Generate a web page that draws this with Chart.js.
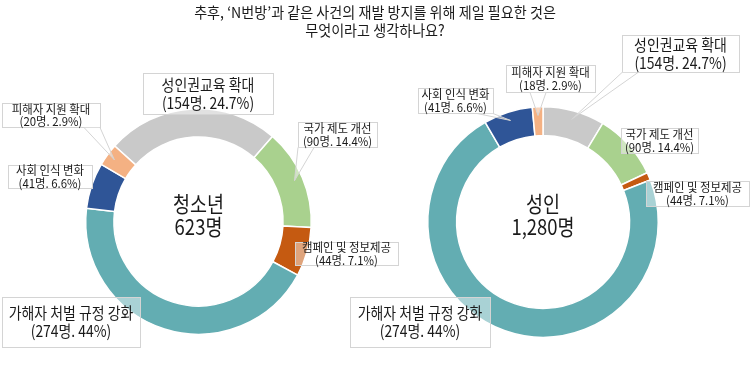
<!DOCTYPE html>
<html>
<head>
<meta charset="utf-8">
<script src="https://cdn.jsdelivr.net/npm/chart.js@4.4.0/dist/chart.umd.min.js"></script>
<style>
  body { margin: 0; background: #fff; }
  #wrap { position: relative; width: 750px; height: 384px; overflow: hidden; }
  #wrap canvas { position: absolute; left: 0; top: 0; }
  #title {
    position: absolute; left: 0; top: 3px; width: 750px;
    text-align: center; font: 15px "Noto Sans CJK KR"; line-height: 18px;
    color: #1a1a1a; transform: scaleX(0.94);
  }
</style>
</head>
<body>
<div id="wrap">
  <canvas id="youth" width="750" height="384"></canvas>
  <canvas id="adult" width="750" height="384"></canvas>
  <div id="title">추후, ‘N번방’과 같은 사건의 재발 방지를 위해 제일 필요한 것은<br>무엇이라고 생각하나요?</div>
</div>
<script>
// data
const categories = ['성인권교육 확대', '국가 제도 개선', '캠페인 및 정보제공', '가해자 처벌 규정 강화', '사회 인식 변화', '피해자 지원 확대'];
const colors = ['#c9c9c9', '#a9d18e', '#c55a11', '#63adb2', '#2f5597', '#f4b183'];

const youthCounts = [154, 90, 44, 274, 41, 20];
const adultCounts = [111, 119, 14, 929, 88, 19];

const youthLabels = ['(154명. 24.7%)', '(90명. 14.4%)', '(44명. 7.1%)', '(274명. 44%)', '(41명. 6.6%)', '(20명. 2.9%)'];
const adultLabels = ['(154명. 24.7%)', '(90명. 14.4%)', '(44명. 7.1%)', '(274명. 44%)', '(41명. 6.6%)', '(18명. 2.9%)'];

const youthCenter = ['청소년', '623명'];
const adultCenter = ['성인', '1,280명'];

// label box placement (by category index)
const youthBoxes = [
  { x: 143, y: 73, w: 130, h: 41, big: true },
  { x: 298, y: 122, w: 79, h: 25, callout: true },
  { x: 295, y: 242, w: 103, h: 23 },
  { x: 2, y: 297, w: 138, h: 50, big: true },
  { x: 8, y: 165, w: 84, h: 23 },
  { x: 2, y: 103, w: 98, h: 24, callout: true }
];
const adultBoxes = [
  { x: 622, y: 35, w: 117, h: 37, big: true, callout: true },
  { x: 621, y: 128, w: 77, h: 25 },
  { x: 646, y: 181, w: 103, h: 25 },
  { x: 350, y: 297, w: 140, h: 50, big: true },
  { x: 418, y: 88, w: 75, h: 25, callout: true },
  { x: 506, y: 65, w: 89, h: 27, callout: true }
];

const FONT = '"Noto Sans CJK KR", "Noto Sans", sans-serif';

function squeezeText(ctx, text, x, y, size, sx) {
  ctx.save();
  ctx.translate(x, y);
  ctx.scale(sx, 1);
  ctx.font = size + 'px ' + FONT;
  ctx.fillText(text, 0, 0);
  ctx.restore();
}

const calloutPlugin = {
  id: 'callouts',
  afterDraw(chart, args, opts) {
    const ctx = chart.ctx;
    const meta = chart.getDatasetMeta(0);
    const cx = meta.data[0].x, cy = meta.data[0].y;

    ctx.save();
    ctx.fillStyle = '#1a1a1a';
    ctx.textAlign = 'center';
    ctx.textBaseline = 'middle';
    squeezeText(ctx, opts.center[0], cx, cy - 18, 22, 0.84);
    squeezeText(ctx, opts.center[1], cx, cy + 5, 22, 0.84);

    opts.boxes.forEach(function (b, i) {
      const arc = meta.data[i];
      ctx.fillStyle = 'rgba(255,255,255,0.45)';
      ctx.strokeStyle = '#d4d4d4';
      ctx.lineWidth = 1;
      ctx.fillRect(b.x, b.y, b.w, b.h);
      ctx.strokeRect(b.x + 0.5, b.y + 0.5, b.w, b.h);

      if (b.callout) {
        const a = (arc.startAngle + arc.endAngle) / 2;
        const r = arc.outerRadius - (arc.outerRadius - arc.innerRadius) * 0.3;
        const tx = cx + Math.cos(a) * r, ty = cy + Math.sin(a) * r;
        const edgeY = ty > b.y + b.h ? b.y + b.h + 0.5 : b.y + 0.5;
        const bx = Math.min(Math.max(tx, b.x + 8), b.x + b.w - 8);
        ctx.beginPath();
        ctx.moveTo(bx - 8, edgeY);
        ctx.lineTo(tx, ty);
        ctx.lineTo(bx + 8, edgeY);
        ctx.closePath();
        ctx.fill();
        ctx.beginPath();
        ctx.moveTo(bx - 8, edgeY);
        ctx.lineTo(tx, ty);
        ctx.lineTo(bx + 8, edgeY);
        ctx.stroke();
      }

      ctx.fillStyle = '#1a1a1a';
      const mx = b.x + b.w / 2, my = b.y + b.h / 2;
      if (b.big) {
        squeezeText(ctx, categories[i], mx, my - 9, 16, 0.87);
        squeezeText(ctx, opts.labels[i], mx, my + 9, 16, 0.87);
      } else {
        squeezeText(ctx, categories[i], mx, my - 6, 12, 0.95);
        squeezeText(ctx, opts.labels[i], mx, my + 6.5, 12, 0.95);
      }
    });
    ctx.restore();
  }
};

function makeChart(id, counts, labels, center, boxes, rotation, padding) {
  return new Chart(document.getElementById(id), {
    type: 'doughnut',
    data: {
      labels: categories,
      datasets: [{
        data: counts,
        backgroundColor: colors,
        borderColor: '#ffffff',
        borderWidth: 1.5
      }]
    },
    options: {
      responsive: false,
      animation: false,
      cutout: '75%',
      rotation: rotation,
      layout: { padding: padding },
      plugins: {
        legend: { display: false },
        tooltip: { enabled: false },
        callouts: { center: center, labels: labels, boxes: boxes }
      }
    },
    plugins: [calloutPlugin]
  });
}

document.fonts.load('16px "Noto Sans CJK KR"', '가').then(function () {
  makeChart('youth', youthCounts, youthLabels, youthCenter, youthBoxes, -48,
    { left: 85, right: 438, top: 108, bottom: 49 });
  makeChart('adult', adultCounts, adultLabels, adultCenter, adultBoxes, 0,
    { left: 427, right: 91, top: 106, bottom: 46 });
});
</script>
</body>
</html>
